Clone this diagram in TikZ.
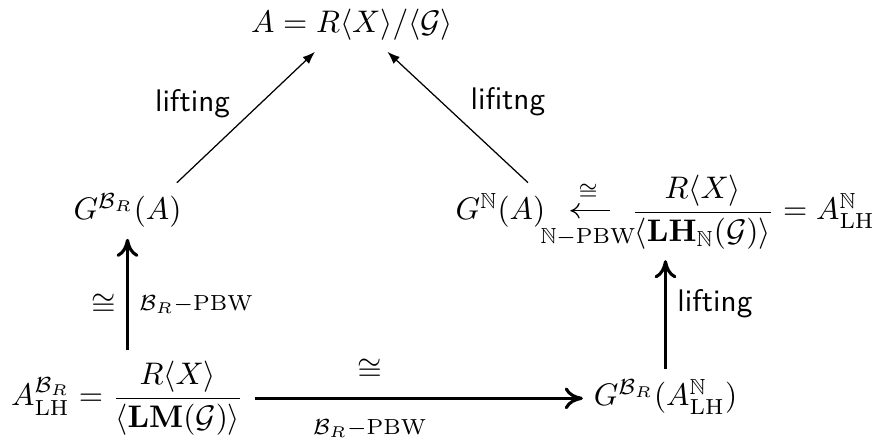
\documentclass[tikz,border=0pt]{standalone}
\usepackage{amsmath, amssymb}
\usepackage{tikz}
\usetikzlibrary{arrows.meta, positioning}
\tikzset{
  mathnode/.style={inner sep=3.33pt,anchor=base},
  liftarrow/.style={-{Latex[length=4pt,width=3pt]},line width=0.4pt},
  isoarrow/.style={-{Computer Modern Rightarrow[length=5.8pt,width=7pt]},line width=1pt},
  pbwarrow/.style={{Computer Modern Rightarrow[length=3pt,width=5pt]}-,line width=0.4pt},
  liftlabel/.style={font=\sffamily},
}
\begin{document}
\begin{tikzpicture}[x=0.3205pt,y=-0.3205pt]
  \useasboundingbox (0,0) rectangle (875,441);
  \node[mathnode] (A) at (352,33) {$A = R\langle X\rangle/\langle\mathcal{G}\rangle$};
  \node[mathnode] (GBA) at (127.5,220) {$G^{\mathcal{B}_R}(A)$};
  \node[mathnode] (GNA) at (500.5,220) {$G^{\mathbb{N}}(A)$};
  \node[mathnode] (LHN) at (753,220) {$\dfrac{R\langle X\rangle}{\langle\mathbf{LH}_{\mathbb{N}}(\mathcal{G})\rangle} = A^{\mathbb{N}}_{\mathrm{LH}}$};
  \node[mathnode] (BL) at (127.5,406) {$A^{\mathcal{B}_R}_{\mathrm{LH}} = \dfrac{R\langle X\rangle}{\langle\mathbf{LM}(\mathcal{G})\rangle}$};
  \node[mathnode] (BR) at (665.5,406) {$G^{\mathcal{B}_R}(A^{\mathbb{N}}_{\mathrm{LH}})$};
  % liftings to A
  \draw[liftarrow] ([xshift=-5pt]GBA.north east) -- ([xshift=24pt]A.south west)
    node[liftlabel,pos=0.6,left=6pt] {lifting};
  \draw[liftarrow] ([xshift=8.8pt]GNA.north) -- ([xshift=-24.5pt]A.south east)
    node[liftlabel,pos=0.62,right=6pt] {lifitng};
  % PBW isomorphisms
  \draw[pbwarrow,shorten <=4.5pt,shorten >=3.2pt] (GNA) -- (GNA -| LHN.west)
    node[midway,above] {$\scriptstyle\cong$}
    node[midway,below=2pt] {$\scriptstyle\mathbb{N}-\mathrm{PBW}$};
  \draw[isoarrow] (BL) -- (GBA)
    node[pos=0.41,left] {$\cong$}
    node[pos=0.41,right] {$\scriptstyle\mathcal{B}_R-\mathrm{PBW}$};
  \draw[isoarrow] (BL) -- (BL -| BR.west)
    node[pos=0.35,above=2pt] {$\cong$}
    node[pos=0.35,below=3pt] {$\scriptstyle\mathcal{B}_R-\mathrm{PBW}$};
  \draw[isoarrow] (BR) -- (BR |- LHN.south)
    node[liftlabel,pos=0.6,right] {lifting};
\end{tikzpicture}
\end{document}
